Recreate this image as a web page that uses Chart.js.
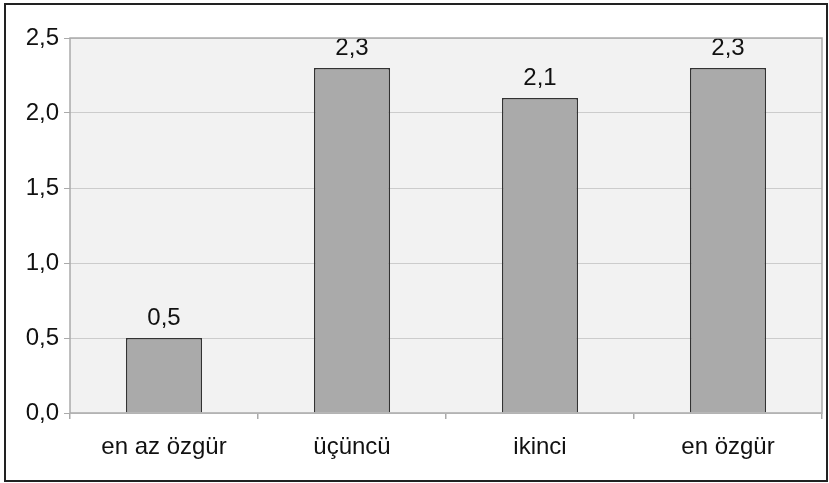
<!DOCTYPE html>
<html>
<head>
<meta charset="utf-8">
<script src="https://cdn.jsdelivr.net/npm/chart.js@4"></script>
<style>
  html, body { margin: 0; padding: 0; background: #fff; }
  #wrap { position: relative; width: 829px; height: 483px; }
  #frame { position: absolute; left: 4px; top: 3px; width: 820px; height: 475px; border: 2px solid #222; pointer-events: none; }
</style>
</head>
<body>
<div id="wrap">
  <canvas id="chart" width="829" height="483"></canvas>
  <div id="frame"></div>
</div>
<script>
const categories = ['en az özgür', 'üçüncü', 'ikinci', 'en özgür'];
const values = [0.5, 2.3, 2.1, 2.3];
const yTicks = [0, 0.5, 1.0, 1.5, 2.0, 2.5];

const fmt = v => v.toFixed(1).replace('.', ',');
const FONT = '"Liberation Sans", Arial, sans-serif';

// plot background + frame
const plotBg = {
    id: 'plotBg',
    beforeDraw(chart) {
        const { ctx, chartArea: a } = chart;
        ctx.save();
        ctx.fillStyle = '#f2f2f2';
        ctx.fillRect(a.left, a.top, a.right - a.left, a.bottom - a.top);
        ctx.restore();
    },
    afterDraw(chart) {
        const { ctx, chartArea: a } = chart;
        ctx.save();
        ctx.strokeStyle = '#aaaaaa';
        ctx.lineWidth = 1.5;
        ctx.strokeRect(a.left, a.top, a.right - a.left, a.bottom - a.top);
        ctx.restore();
    }
};

// value labels above bars
const barLabels = {
    id: 'barLabels',
    afterDatasetsDraw(chart) {
        const ctx = chart.ctx;
        const meta = chart.getDatasetMeta(0);
        ctx.save();
        ctx.font = '24px ' + FONT;
        ctx.fillStyle = '#111';
        ctx.textAlign = 'center';
        ctx.textBaseline = 'alphabetic';
        meta.data.forEach((bar, i) => {
            ctx.fillText(fmt(values[i]), bar.x, bar.y - 13);
        });
        ctx.restore();
    }
};

new Chart(document.getElementById('chart').getContext('2d'), {
    type: 'bar',
    data: {
        labels: categories,
        datasets: [{
            data: values,
            backgroundColor: '#aaaaaa',
            borderColor: '#333333',
            borderWidth: 1.5,
            categoryPercentage: 1,
            barPercentage: 0.405
        }]
    },
    options: {
        responsive: false,
        animation: false,
        layout: { padding: { left: 0, top: 38, right: 7, bottom: 0 } },
        plugins: {
            legend: { display: false },
            tooltip: { enabled: false }
        },
        scales: {
            x: {
                offset: true,
                grid: {
                    offset: true,
                    drawOnChartArea: false,
                    tickLength: 6,
                    color: '#aaaaaa',
                    lineWidth: 1.5
                },
                border: { display: false },
                ticks: {
                    color: '#111',
                    padding: 14,
                    font: { family: FONT, size: 24 }
                },
                afterFit(s) { s.height = 70; }
            },
            y: {
                min: 0,
                max: 2.5,
                afterBuildTicks(s) { s.ticks = yTicks.map(v => ({ value: v })); },
                grid: {
                    color: '#cccccc',
                    lineWidth: 1,
                    tickLength: 6,
                    tickColor: '#aaaaaa'
                },
                border: { display: false },
                ticks: {
                    color: '#111',
                    padding: 5,
                    font: { family: FONT, size: 24 },
                    callback: v => fmt(v)
                },
                afterFit(s) { s.width = 70; }
            }
        }
    },
    plugins: [plotBg, barLabels]
});
</script>
</body>
</html>
